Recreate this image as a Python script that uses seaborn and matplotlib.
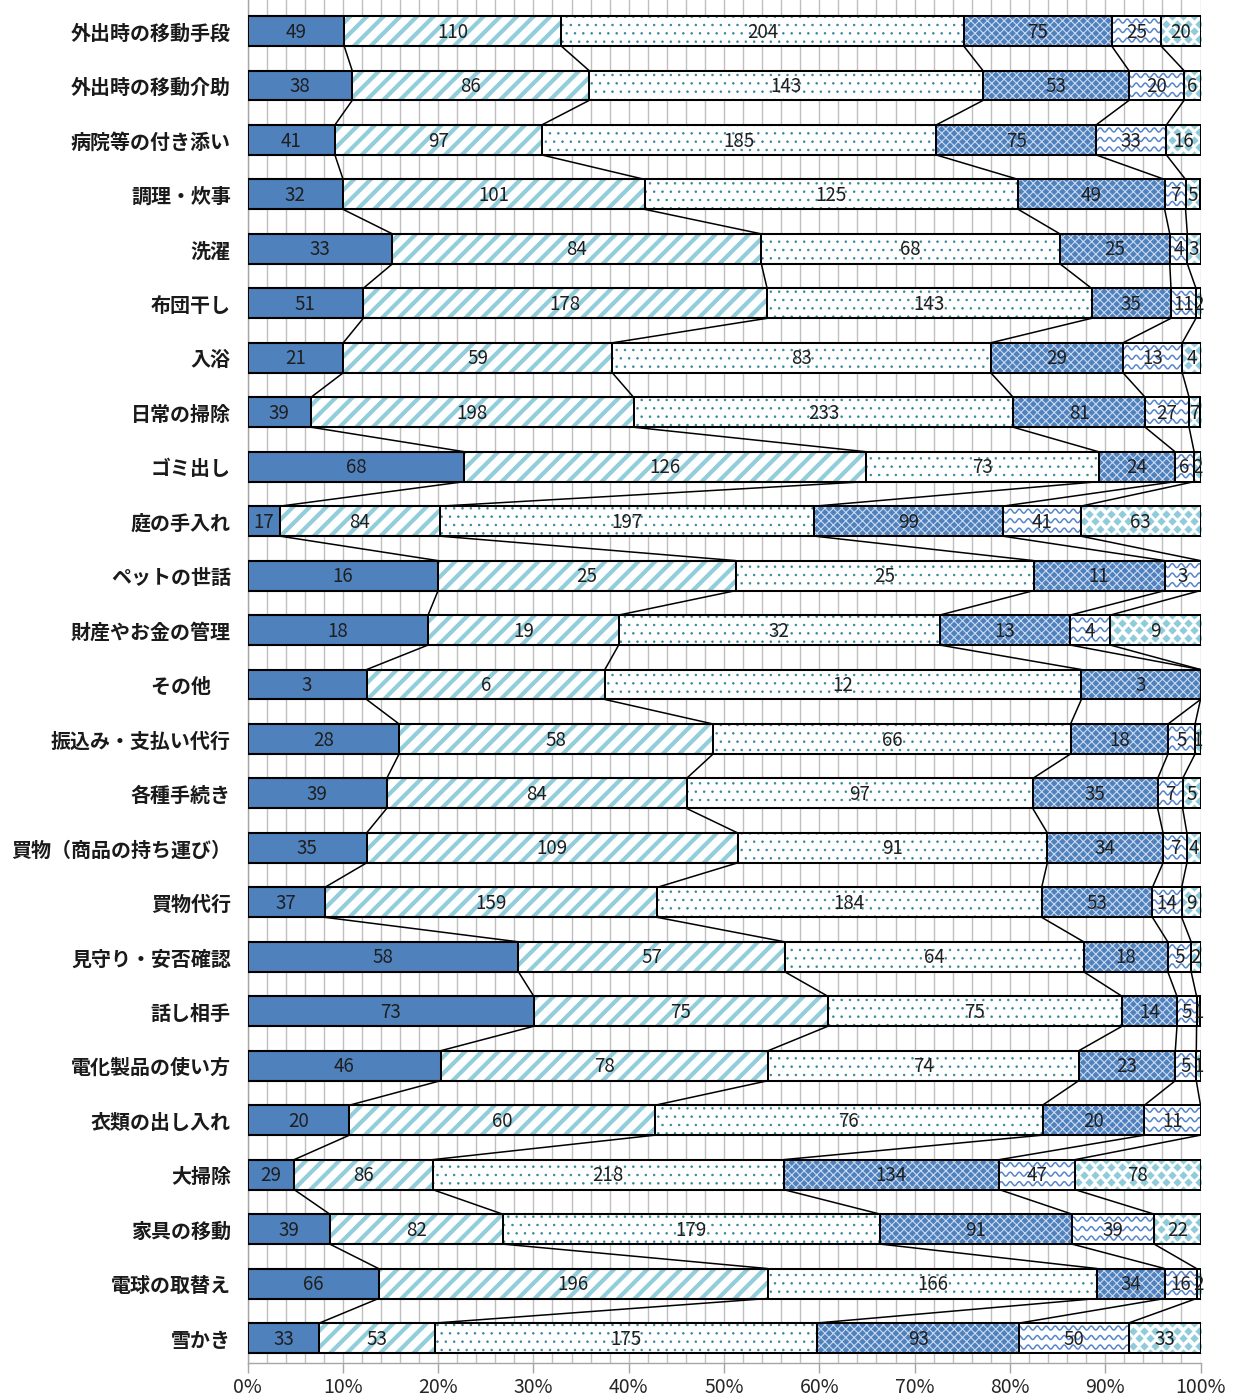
import numpy as np
import pandas as pd
import matplotlib
matplotlib.use("Agg")
import matplotlib.pyplot as plt
from matplotlib.ticker import MultipleLocator, FuncFormatter
from matplotlib.collections import LineCollection
from matplotlib.patches import Rectangle
import seaborn as sns

categories = [
    "外出時の移動手段", "外出時の移動介助", "病院等の付き添い", "調理・炊事", "洗濯",
    "布団干し", "入浴", "日常の掃除", "ゴミ出し", "庭の手入れ", "ペットの世話",
    "財産やお金の管理", "その他　", "振込み・支払い代行", "各種手続き",
    "買物（商品の持ち運び）", "買物代行", "見守り・安否確認", "話し相手",
    "電化製品の使い方", "衣類の出し入れ", "大掃除", "家具の移動", "電球の取替え", "雪かき",
]

series1 = [49, 38, 41, 32, 33, 51, 21, 39, 68, 17, 16, 18, 3, 28, 39, 35, 37, 58, 73, 46, 20, 29, 39, 66, 33]
series2 = [110, 86, 97, 101, 84, 178, 59, 198, 126, 84, 25, 19, 6, 58, 84, 109, 159, 57, 75, 78, 60, 86, 82, 196, 53]
series3 = [204, 143, 185, 125, 68, 143, 83, 233, 73, 197, 25, 32, 12, 66, 97, 91, 184, 64, 75, 74, 76, 218, 179, 166, 175]
series4 = [75, 53, 75, 49, 25, 35, 29, 81, 24, 99, 11, 13, 3, 18, 35, 34, 53, 18, 14, 23, 20, 134, 91, 34, 93]
series5 = [25, 20, 33, 7, 4, 11, 13, 27, 6, 41, 3, 4, 0, 5, 7, 7, 14, 5, 5, 5, 11, 47, 39, 16, 50]
series6 = [20, 6, 16, 5, 3, 2, 4, 7, 2, 63, 0, 9, 0, 1, 5, 4, 9, 2, 1, 1, 0, 78, 22, 2, 33]

sns.set_style("white")
plt.rcParams["font.family"] = ["Noto Sans CJK JP", "DejaVu Sans"]

counts = np.array([series1, series2, series3, series4, series5, series6], dtype=float)
pct = counts / counts.sum(axis=0) * 100
cum = np.cumsum(pct, axis=0)
start = cum - pct

# fill styles per series: (face, hatch, hatch colour, hatch linewidth)
styles = [
    ("#4F81BD", None, "#4F81BD", 1.0),
    ("white", "//", "#92CDDC", 3.0),
    ("white", "..", "#31859C", 0.55),
    ("#4F81BD", "xxxx", "#CBDAF0", 0.8),
    ("white", None, "white", 1.0),
    ("white", None, "white", 1.0),
]

W, H = 1243, 1396
AX_LEFT, AX_RIGHT, AX_BOTTOM = 247.5, 1200.5, 1363
fig = plt.figure(figsize=(W / 100, H / 100), dpi=100)
ax = fig.add_axes([AX_LEFT / W, 1 - AX_BOTTOM / H, (AX_RIGHT - AX_LEFT) / W, AX_BOTTOM / H])

BAR_H = 0.55
n = len(categories)
ROW_PX = 54.46
PX_X = 100 / (AX_RIGHT - AX_LEFT)   # data units per pixel, x
PX_Y = 1 / ROW_PX                    # data units per pixel, y

# cumulative bars, outermost first so each inner segment covers the previous one
for k in reversed(range(6)):
    face, hatch, hcol, hlw = styles[k]
    df = pd.DataFrame({"cat": categories, "val": cum[k]})
    n0 = len(ax.patches)
    with plt.rc_context({"hatch.linewidth": hlw}):
        sns.barplot(data=df, x="val", y="cat", order=categories, orient="h",
                    color=face, saturation=1, width=BAR_H, edgecolor=hcol,
                    linewidth=0, hatch=hatch, ax=ax, zorder=2)
    for p in ax.patches[n0:]:
        if hasattr(p, "set_hatch_linewidth"):
            p.set_hatch_linewidth(hlw)


def segment_clip(i, k):
    return Rectangle((start[k, i], i - BAR_H / 2), pct[k, i], BAR_H,
                     transform=ax.transData, fill=False)


# wave texture for the fifth series
for i in range(n):
    if counts[4, i] <= 0:
        continue
    x0, x1 = start[4, i], cum[4, i]
    px = np.arange(x0 / PX_X - 1, x1 / PX_X + 1.5, 0.5)
    segs = []
    for off in np.arange(5.0, 30, 9.5):
        yy = i - BAR_H / 2 + (off + 2.0 * np.sin(2 * np.pi * px / 9.0)) * PX_Y
        segs.append(np.column_stack([px * PX_X, yy]))
    lc = LineCollection(segs, colors="#5585CC", linewidths=1.1, zorder=2.5)
    ax.add_collection(lc)
    lc.set_clip_path(segment_clip(i, 4))

# diamond texture for the sixth series
for i in range(n):
    if counts[5, i] <= 0:
        continue
    x0, x1 = start[5, i], cum[5, i]
    xs, ys = [], []
    for r, off in enumerate(np.arange(0, 31, 7.5)):
        shift = 0 if r % 2 == 0 else 5.5
        cols = np.arange(np.floor(x0 / PX_X / 11) * 11 - 11 + shift, x1 / PX_X + 11, 11)
        xs.extend(cols * PX_X)
        ys.extend([i - BAR_H / 2 + off * PX_Y] * len(cols))
    sc = ax.scatter(xs, ys, marker="D", s=18, color="#8FCBDB", linewidths=0, zorder=2.5)
    sc.set_clip_path(segment_clip(i, 5))

# black outlines of every segment
for k in range(6):
    df = pd.DataFrame({"cat": categories, "val": cum[k]})
    sns.barplot(data=df, x="val", y="cat", order=categories, orient="h",
                color="black", fill=False, width=BAR_H, linewidth=1.45,
                ax=ax, zorder=3)

# series lines joining segment boundaries of neighbouring bars
for k in range(5):
    for i in range(n - 1):
        ax.plot([cum[k, i], cum[k, i + 1]], [i + BAR_H / 2, i + 1 - BAR_H / 2],
                color="black", lw=1.1, zorder=3, solid_capstyle="butt")

# value labels
for k in range(6):
    for i in range(n):
        v = counts[k, i]
        if v > 0:
            ax.text(cum[k, i] - pct[k, i] / 2, i + 0.02, f"{int(v)}", ha="center", va="center",
                    fontsize=13.5, color="#1F1F1F", zorder=4)

ax.set_xlim(0, 100)
ax.set_ylim(n - 1 + 25 / ROW_PX, -0.57)
ax.set_xlabel("")
ax.set_ylabel("")
ax.xaxis.set_major_locator(MultipleLocator(10))
ax.xaxis.set_minor_locator(MultipleLocator(2))
ax.xaxis.set_major_formatter(FuncFormatter(lambda x, _: f"{x:.0f}%"))
ax.grid(axis="x", which="both", color="#BFBFBF", lw=1.0, zorder=0)
ax.grid(axis="y", visible=False)
ax.set_axisbelow(True)
ax.tick_params(axis="x", which="major", length=7, color="#A6A6A6", width=1,
               labelsize=14, labelcolor="#262626", pad=3, bottom=True)
ax.tick_params(axis="x", which="minor", length=0)
ax.tick_params(axis="y", length=0, pad=12, labelsize=14.4)
ax.set_yticks(range(n))
ax.set_yticklabels(categories, fontweight="bold", color="#1A1A1A")
for side in ("top", "right"):
    ax.spines[side].set_visible(False)
for side in ("left", "bottom"):
    ax.spines[side].set_color("#A6A6A6")
    ax.spines[side].set_linewidth(1.0)

fig.savefig("out.png", dpi=100)
